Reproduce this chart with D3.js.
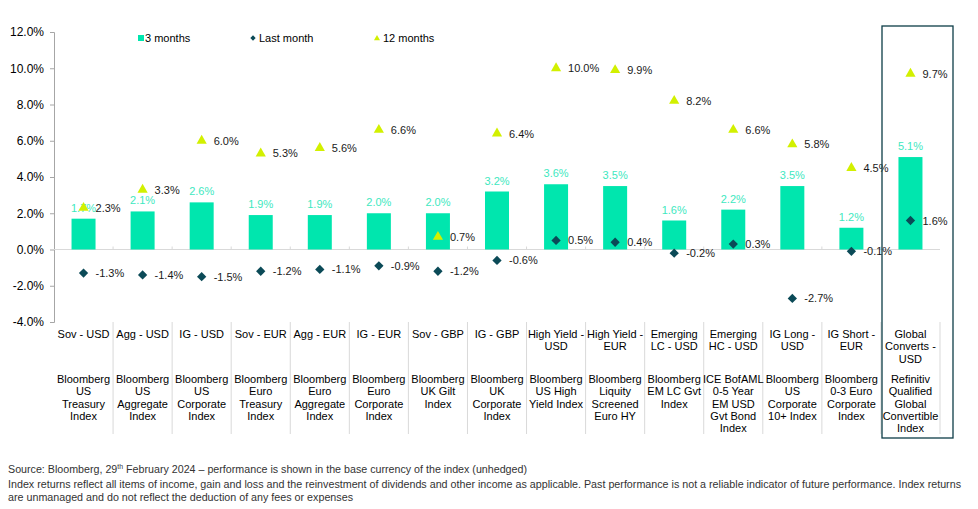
<!DOCTYPE html>
<html>
<head>
<meta charset="utf-8">
<script src="https://d3js.org/d3.v7.min.js"></script>
<style>
  body { margin: 0; background: #fff; }
  svg { font-family: "Liberation Sans", Arial, sans-serif; }
</style>
</head>
<body>
<div id="chart"></div>
<script>
// chart data
const categories = ['Sov - USD', 'Agg - USD', 'IG - USD', 'Sov - EUR', 'Agg - EUR', 'IG - EUR', 'Sov - GBP',
  'IG - GBP', 'High Yield - USD', 'High Yield - EUR', 'Emerging LC - USD', 'Emerging HC - USD',
  'IG Long - USD', 'IG Short - EUR', 'Global Converts - USD'];

const catLines = [['Sov - USD'], ['Agg - USD'], ['IG - USD'], ['Sov - EUR'], ['Agg - EUR'], ['IG - EUR'],
  ['Sov - GBP'], ['IG - GBP'], ['High Yield -', 'USD'], ['High Yield -', 'EUR'], ['Emerging', 'LC - USD'],
  ['Emerging', 'HC - USD'], ['IG Long -', 'USD'], ['IG Short -', 'EUR'], ['Global', 'Converts -', 'USD']];

const indexLines = [
  ['Bloomberg', 'US', 'Treasury', 'Index'],
  ['Bloomberg', 'US', 'Aggregate', 'Index'],
  ['Bloomberg', 'US', 'Corporate', 'Index'],
  ['Bloomberg', 'Euro', 'Treasury', 'Index'],
  ['Bloomberg', 'Euro', 'Aggregate', 'Index'],
  ['Bloomberg', 'Euro', 'Corporate', 'Index'],
  ['Bloomberg', 'UK Gilt', 'Index'],
  ['Bloomberg', 'UK', 'Corporate', 'Index'],
  ['Bloomberg', 'US High', 'Yield Index'],
  ['Bloomberg', 'Liquity', 'Screened', 'Euro HY'],
  ['Bloomberg', 'EM LC Gvt', 'Index'],
  ['ICE BofAML', '0-5 Year', 'EM USD', 'Gvt Bond', 'Index'],
  ['Bloomberg', 'US', 'Corporate', '10+ Index'],
  ['Bloomberg', '0-3 Euro', 'Corporate', 'Index'],
  ['Refinitiv', 'Qualified', 'Global', 'Convertible', 'Index']
];

const threeMonths = [1.7, 2.1, 2.6, 1.9, 1.9, 2.0, 2.0, 3.2, 3.6, 3.5, 1.6, 2.2, 3.5, 1.2, 5.1];
const lastMonth = [-1.3, -1.4, -1.5, -1.2, -1.1, -0.9, -1.2, -0.6, 0.5, 0.4, -0.2, 0.3, -2.7, -0.1, 1.6];
const twelveMonths = [2.3, 3.3, 6.0, 5.3, 5.6, 6.6, 0.7, 6.4, 10.0, 9.9, 8.2, 6.6, 5.8, 4.5, 9.7];

const yTicks = [-4, -2, 0, 2, 4, 6, 8, 10, 12];

const seriesNames = ['3 months', 'Last month', '12 months'];

const footLines = [
  'Index returns reflect all items of income, gain and loss and the reinvestment of dividends and other income as applicable. Past performance is not a reliable indicator of future performance. Index returns',
  'are unmanaged and do not reflect the deduction of any fees or expenses'
];

const W = 978, H = 509;
const barColor = '#00E6AE';
const barLabelColor = '#3EE8C0';
const diamondColor = '#0B4A57';
const triColor = '#D2F000';
const axisColor = '#A6A6A6';

const svg = d3.select('#chart').append('svg')
  .attr('width', W).attr('height', H);

const x = d3.scaleBand().domain(categories).range([54, 940]);
const y = d3.scaleLinear().domain([-4, 12]).range([322, 32]);
const fmt = v => v.toFixed(1) + '%';

// y axis
const yAxis = svg.append('g')
  .attr('transform', 'translate(54,0)')
  .call(d3.axisLeft(y).tickValues(yTicks).tickSize(4).tickPadding(6).tickFormat(d => d.toFixed(1) + '%'));
yAxis.select('.domain').attr('stroke', axisColor);
yAxis.selectAll('.tick line').attr('stroke', axisColor);
yAxis.selectAll('.tick text').attr('font-size', 12).attr('fill', '#000')
  .attr('font-family', '"Liberation Sans", Arial, sans-serif');

// zero line with small ticks
svg.append('line')
  .attr('x1', 54).attr('x2', 940).attr('y1', y(0)).attr('y2', y(0))
  .attr('stroke', '#D9D9D9').attr('stroke-width', 1.2);
categories.forEach((c, i) => {
  if (i === 0) return;
  svg.append('line')
    .attr('x1', x(c)).attr('x2', x(c)).attr('y1', y(0) - 3).attr('y2', y(0))
    .attr('stroke', '#D9D9D9');
});

// category dividers below the plot
categories.forEach((c, i) => {
  svg.append('line')
    .attr('x1', x(c) + x.bandwidth()).attr('x2', x(c) + x.bandwidth())
    .attr('y1', 322).attr('y2', 434)
    .attr('stroke', '#D9D9D9');
});

// bars
const barW = 24;
svg.append('g').selectAll('rect')
  .data(threeMonths)
  .join('rect')
  .attr('x', (d, i) => x(categories[i]) + x.bandwidth() / 2 - barW / 2)
  .attr('y', d => y(d))
  .attr('width', barW)
  .attr('height', d => y(0) - y(d))
  .attr('fill', barColor);

svg.append('g').selectAll('text')
  .data(threeMonths)
  .join('text')
  .attr('x', (d, i) => x(categories[i]) + x.bandwidth() / 2)
  .attr('y', d => y(d) - 7)
  .attr('text-anchor', 'middle')
  .attr('font-size', 11)
  .attr('fill', barLabelColor)
  .text(fmt);

// last month diamonds
const diamond = d3.symbol().type(d3.symbolDiamond2).size(55);
svg.append('g').selectAll('path')
  .data(lastMonth)
  .join('path')
  .attr('d', diamond)
  .attr('transform', (d, i) => `translate(${x(categories[i]) + x.bandwidth() / 2},${y(d)})`)
  .attr('fill', diamondColor);

svg.append('g').selectAll('text')
  .data(lastMonth)
  .join('text')
  .attr('x', (d, i) => x(categories[i]) + x.bandwidth() / 2 + 12)
  .attr('y', d => y(d) + 4)
  .attr('font-size', 11)
  .attr('fill', '#1a1a1a')
  .text(fmt);

// 12 months triangles
const tri = d3.symbol().type(d3.symbolTriangle).size(45);
svg.append('g').selectAll('path')
  .data(twelveMonths)
  .join('path')
  .attr('d', tri)
  .attr('transform', (d, i) => `translate(${x(categories[i]) + x.bandwidth() / 2},${y(d)})`)
  .attr('fill', triColor);

svg.append('g').selectAll('text')
  .data(twelveMonths)
  .join('text')
  .attr('x', (d, i) => x(categories[i]) + x.bandwidth() / 2 + 12)
  .attr('y', d => y(d) + 4)
  .attr('font-size', 11)
  .attr('fill', '#1a1a1a')
  .text(fmt);

// category labels
categories.forEach((c, i) => {
  const cx = x(c) + x.bandwidth() / 2;
  const t1 = svg.append('text').attr('text-anchor', 'middle').attr('font-size', 11).attr('fill', '#000');
  catLines[i].forEach((l, j) => {
    t1.append('tspan').attr('x', cx).attr('y', 338 + j * 12.3).text(l);
  });
  const t2 = svg.append('text').attr('text-anchor', 'middle').attr('font-size', 11).attr('fill', '#000');
  indexLines[i].forEach((l, j) => {
    t2.append('tspan').attr('x', cx).attr('y', 383 + j * 12.3).text(l);
  });
});

// highlight box around last category
svg.append('rect')
  .attr('x', 882).attr('y', 26).attr('width', 71).attr('height', 412)
  .attr('fill', 'none').attr('stroke', '#0D3D47').attr('stroke-width', 1.3);

// legend
const legend = svg.append('g').attr('font-size', 11).attr('fill', '#000');
legend.append('rect').attr('x', 138).attr('y', 35).attr('width', 6).attr('height', 6).attr('fill', barColor);
legend.append('text').attr('x', 145).attr('y', 42).text(seriesNames[0]);
legend.append('path').attr('d', d3.symbol().type(d3.symbolDiamond2).size(18))
  .attr('transform', 'translate(253,38)').attr('fill', diamondColor);
legend.append('text').attr('x', 259).attr('y', 42).text(seriesNames[1]);
legend.append('path').attr('d', d3.symbol().type(d3.symbolTriangle).size(16))
  .attr('transform', 'translate(377,38.5)').attr('fill', triColor);
legend.append('text').attr('x', 383).attr('y', 42).text(seriesNames[2]);

// footnote
const foot = svg.append('g').attr('font-size', 10).attr('fill', '#333');
const src = foot.append('text').attr('x', 8).attr('y', 473)
  .attr('textLength', 519).attr('lengthAdjust', 'spacingAndGlyphs');
src.append('tspan').text('Source: Bloomberg, 29');
src.append('tspan').attr('font-size', 6.5).attr('dy', -4).text('th');
src.append('tspan').attr('dy', 4).text(' February 2024 \u2013 performance is shown in the base currency of the index (unhedged)');
foot.append('text').attr('x', 8).attr('y', 488)
  .attr('textLength', 953).attr('lengthAdjust', 'spacingAndGlyphs').text(footLines[0]);
foot.append('text').attr('x', 8).attr('y', 501)
  .attr('textLength', 345).attr('lengthAdjust', 'spacingAndGlyphs').text(footLines[1]);
</script>
</body>
</html>
